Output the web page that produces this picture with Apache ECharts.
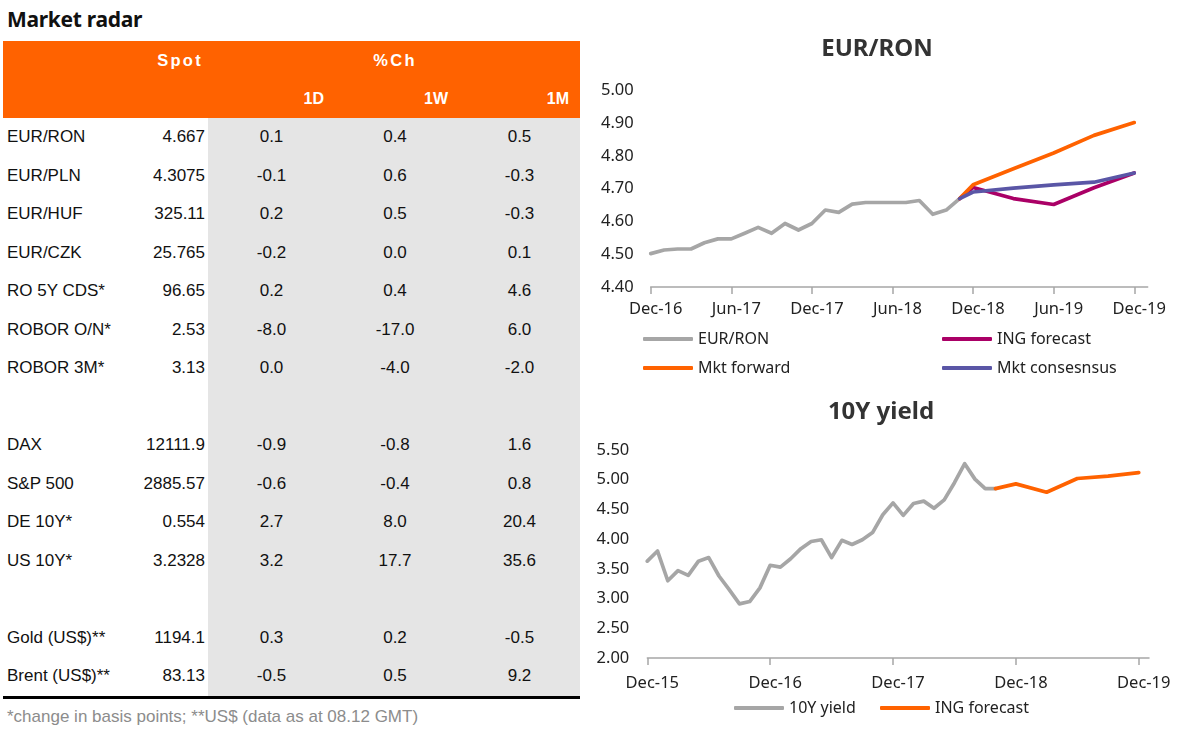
<!DOCTYPE html>
<html>
<head>
<meta charset="utf-8">
<title>Market radar</title>
<script src="https://cdn.jsdelivr.net/npm/echarts@6/dist/echarts.min.js"></script>
<style>
  html, body { margin: 0; padding: 0; background: #fff; }
  body { width: 1200px; height: 739px; position: relative; overflow: hidden; }
  #page-title { position: absolute; left: 7px; top: 9px; font: bold 21px/21px 'Noto Sans', sans-serif; letter-spacing: -0.3px; color: #111; }
  #radar { position: absolute; left: 3px; top: 41px; width: 577px; table-layout: fixed;
           border-collapse: separate; border-spacing: 0; border-bottom: 3px solid #000;
           font-family: 'Liberation Sans', Arial, sans-serif; }
  #radar th, #radar td { padding: 0; white-space: nowrap; }
  #radar thead th { background: #ff6200; color: #fff; font-weight: bold; }
  #radar thead tr.r1 th { height: 39px; font-size: 16.5px; letter-spacing: 2.3px; }
  #radar thead tr.r2 th { height: 38px; font-size: 16px; text-align: right; }
  #radar th.spot { text-align: right; padding-right: 5px; }
  #radar th.pct { text-align: center; padding-left: 2px; }
  #radar th.c1d, #radar th.c1w { padding-right: 7px; }
  #radar th.c1m { padding-right: 11px; }
  #radar tbody td { height: 38.5px; font-size: 17px; color: #111; }
  #radar td.lbl { padding-left: 4px; text-align: left; }
  #radar td.spot { text-align: right; padding-right: 3px; }
  #radar td.chg { text-align: center; padding-left: 4px; background: #e5e5e5; }
  #note { position: absolute; left: 7px; top: 707px; font: 17px/19px 'Liberation Sans', Arial, sans-serif; color: #8c8c8c; }
  #chart-ron { position: absolute; left: 590px; top: 0; width: 610px; height: 380px; }
  #chart-yield { position: absolute; left: 590px; top: 380px; width: 610px; height: 359px; }
</style>
</head>
<body>
<div id="page-title">Market radar</div>
<table id="radar">
  <colgroup>
    <col style="width:97px"><col style="width:108px"><col style="width:123px"><col style="width:124px"><col style="width:125px">
  </colgroup>
  <thead>
    <tr class="r1"><th></th><th class="spot">Spot</th><th class="pct" colspan="3">%Ch</th></tr>
    <tr class="r2"><th></th><th></th><th class="c1d">1D</th><th class="c1w">1W</th><th class="c1m">1M</th></tr>
  </thead>
  <tbody id="radar-body"></tbody>
</table>
<div id="note">*change in basis points; **US$ (data as at 08.12 GMT)</div>
<div id="chart-ron"></div>
<div id="chart-yield"></div>
<script>
// Table data (null = spacer row)
const rowLabels = ['EUR/RON', 'EUR/PLN', 'EUR/HUF', 'EUR/CZK', 'RO 5Y CDS*', 'ROBOR O/N*', 'ROBOR 3M*', null,
  'DAX', 'S&P 500', 'DE 10Y*', 'US 10Y*', null, 'Gold (US$)**', 'Brent (US$)**'];
const spot = [4.667, 4.3075, 325.11, 25.765, 96.65, 2.53, 3.13, null, 12111.9, 2885.57, 0.554, 3.2328, null, 1194.1, 83.13];
const chg1D = [0.1, -0.1, 0.2, -0.2, 0.2, -8.0, 0.0, null, -0.9, -0.6, 2.7, 3.2, null, 0.3, -0.5];
const chg1W = [0.4, 0.6, 0.5, 0.0, 0.4, -17.0, -4.0, null, -0.8, -0.4, 8.0, 17.7, null, 0.2, 0.5];
const chg1M = [0.5, -0.3, -0.3, 0.1, 4.6, 6.0, -2.0, null, 1.6, 0.8, 20.4, 35.6, null, -0.5, 9.2];

// Chart categories (monthly)
const months = ['Dec-15',
  'Jan-16', 'Feb-16', 'Mar-16', 'Apr-16', 'May-16', 'Jun-16', 'Jul-16', 'Aug-16', 'Sep-16', 'Oct-16', 'Nov-16', 'Dec-16',
  'Jan-17', 'Feb-17', 'Mar-17', 'Apr-17', 'May-17', 'Jun-17', 'Jul-17', 'Aug-17', 'Sep-17', 'Oct-17', 'Nov-17', 'Dec-17',
  'Jan-18', 'Feb-18', 'Mar-18', 'Apr-18', 'May-18', 'Jun-18', 'Jul-18', 'Aug-18', 'Sep-18', 'Oct-18', 'Nov-18', 'Dec-18',
  'Jan-19', 'Feb-19', 'Mar-19', 'Apr-19', 'May-19', 'Jun-19', 'Jul-19', 'Aug-19', 'Sep-19', 'Oct-19', 'Nov-19', 'Dec-19',
  'Jan-20'];
const ronMonths = months.slice(12); // Dec-16 .. Jan-20

// EUR/RON chart
const eurRon = [4.502, 4.513, 4.516, 4.516, 4.535, 4.547, 4.547, 4.564, 4.582, 4.564, 4.594, 4.574,
  4.594, 4.635, 4.628, 4.653, 4.658, 4.658, 4.658, 4.658, 4.664, 4.622, 4.635, 4.670];
const ingForecastRon = [['Nov-18', 4.670], ['Dec-18', 4.704], ['Mar-19', 4.670], ['Jun-19', 4.652], ['Sep-19', 4.703], ['Dec-19', 4.748]];
const mktForwardRon = [['Nov-18', 4.670], ['Dec-18', 4.712], ['Mar-19', 4.761], ['Jun-19', 4.809], ['Sep-19', 4.863], ['Dec-19', 4.902]];
const mktConsensusRon = [['Nov-18', 4.670], ['Dec-18', 4.690], ['Mar-19', 4.702], ['Jun-19', 4.712], ['Sep-19', 4.720], ['Dec-19', 4.748]];

// 10Y yield chart
const yield10Y = [3.63, 3.80, 3.30, 3.47, 3.39, 3.63, 3.69, 3.38, 3.15, 2.91, 2.95, 3.18,
  3.56, 3.53, 3.67, 3.84, 3.96, 3.99, 3.69, 3.98, 3.91, 3.99, 4.11, 4.41,
  4.61, 4.40, 4.60, 4.64, 4.52, 4.66, 4.95, 5.27, 5.01, 4.85, 4.85];
const ingForecastYield = [['Oct-18', 4.85], ['Dec-18', 4.93], ['Mar-19', 4.79], ['Jun-19', 5.02], ['Sep-19', 5.06], ['Dec-19', 5.12]];

const FONT = "'Noto Sans', sans-serif";
const GREY = '#a6a6a6';
const PURPLE = '#aa0066';
const ORANGE = '#ff6200';
const BLUE = '#5a56a6';
const INK = '#222';

// Build table body
const tbody = document.getElementById('radar-body');
tbody.innerHTML = rowLabels.map((label, i) => {
  const fmt = v => (v === null ? '' : v.toFixed(1));
  return `<tr>
    <td class="lbl">${label || ''}</td>
    <td class="spot">${spot[i] === null ? '' : String(spot[i])}</td>
    <td class="chg">${fmt(chg1D[i])}</td>
    <td class="chg">${fmt(chg1W[i])}</td>
    <td class="chg">${fmt(chg1M[i])}</td>
  </tr>`;
}).join('');

function lineSeries(name, data, color) {
  return {
    name: name,
    type: 'line',
    data: data,
    showSymbol: false,
    smooth: false,
    lineStyle: { width: 3.7, color: color, cap: 'round', join: 'round' },
    itemStyle: { color: color }
  };
}

function xAxisFor(cats, tickEvery, labelMargin) {
  return {
    type: 'category',
    data: cats,
    boundaryGap: false,
    axisLine: { lineStyle: { color: GREY, width: 1.5 } },
    axisTick: { interval: tickEvery - 1, length: 7, lineStyle: { color: GREY, width: 1.5 } },
    axisLabel: { interval: tickEvery - 1, margin: labelMargin, fontSize: 16.5, color: INK, fontFamily: FONT, padding: [0, 0, 0, 10] },
    splitLine: { show: false }
  };
}

function yAxisFor(min, max, step, margin) {
  return {
    type: 'value',
    min: min,
    max: max,
    interval: step,
    axisLine: { show: false },
    axisTick: { show: false },
    splitLine: { show: false },
    axisLabel: { margin: margin, fontSize: 16.5, color: INK, fontFamily: FONT, formatter: v => v.toFixed(2) }
  };
}

// one single-item legend per entry, so the columns line up like the source
function legendItem(name, left, top) {
  return {
    data: [name],
    left: left,
    top: top,
    padding: 0,
    itemWidth: 50,
    itemHeight: 4,
    icon: 'roundRect',
    selectedMode: false,
    itemStyle: { borderWidth: 0 },
    textStyle: { fontSize: 16, color: INK, fontFamily: FONT, lineHeight: 18 }
  };
}

const ronChart = echarts.init(document.getElementById('chart-ron'));
ronChart.setOption({
  animation: false,
  textStyle: { fontFamily: FONT },
  title: {
    text: 'EUR/RON', left: 287, top: 37, textAlign: 'center', padding: 0,
    textStyle: { fontSize: 24, fontWeight: 'bold', color: '#333', fontFamily: FONT }
  },
  legend: [
    legendItem('EUR/RON', 53, 330),
    legendItem('ING forecast', 352, 330),
    legendItem('Mkt forward', 53, 359),
    legendItem('Mkt consesnsus', 352, 359)
  ],
  grid: { left: 60.7, right: 52.3, top: 90.5, bottom: 93, outerBoundsMode: 'none' },
  xAxis: xAxisFor(ronMonths, 6, 14),
  yAxis: yAxisFor(4.4, 5.0, 0.1, 17),
  series: [
    lineSeries('EUR/RON', eurRon, GREY),
    lineSeries('ING forecast', ingForecastRon, PURPLE),
    lineSeries('Mkt forward', mktForwardRon, ORANGE),
    lineSeries('Mkt consesnsus', mktConsensusRon, BLUE)
  ]
});

const yieldChart = echarts.init(document.getElementById('chart-yield'));
yieldChart.setOption({
  animation: false,
  textStyle: { fontFamily: FONT },
  title: {
    text: '10Y yield', left: 291, top: 20, textAlign: 'center', padding: 0,
    textStyle: { fontSize: 24, fontWeight: 'bold', color: '#333', fontFamily: FONT }
  },
  legend: [
    legendItem('10Y yield', 144, 319),
    legendItem('ING forecast', 290, 319)
  ],
  grid: { left: 57.3, right: 51, top: 70, bottom: 81, outerBoundsMode: 'none' },
  xAxis: xAxisFor(months, 12, 16.5),
  yAxis: yAxisFor(2, 5.5, 0.5, 18),
  series: [
    lineSeries('10Y yield', yield10Y, GREY),
    lineSeries('ING forecast', ingForecastYield, ORANGE)
  ]
});
</script>
</body>
</html>
